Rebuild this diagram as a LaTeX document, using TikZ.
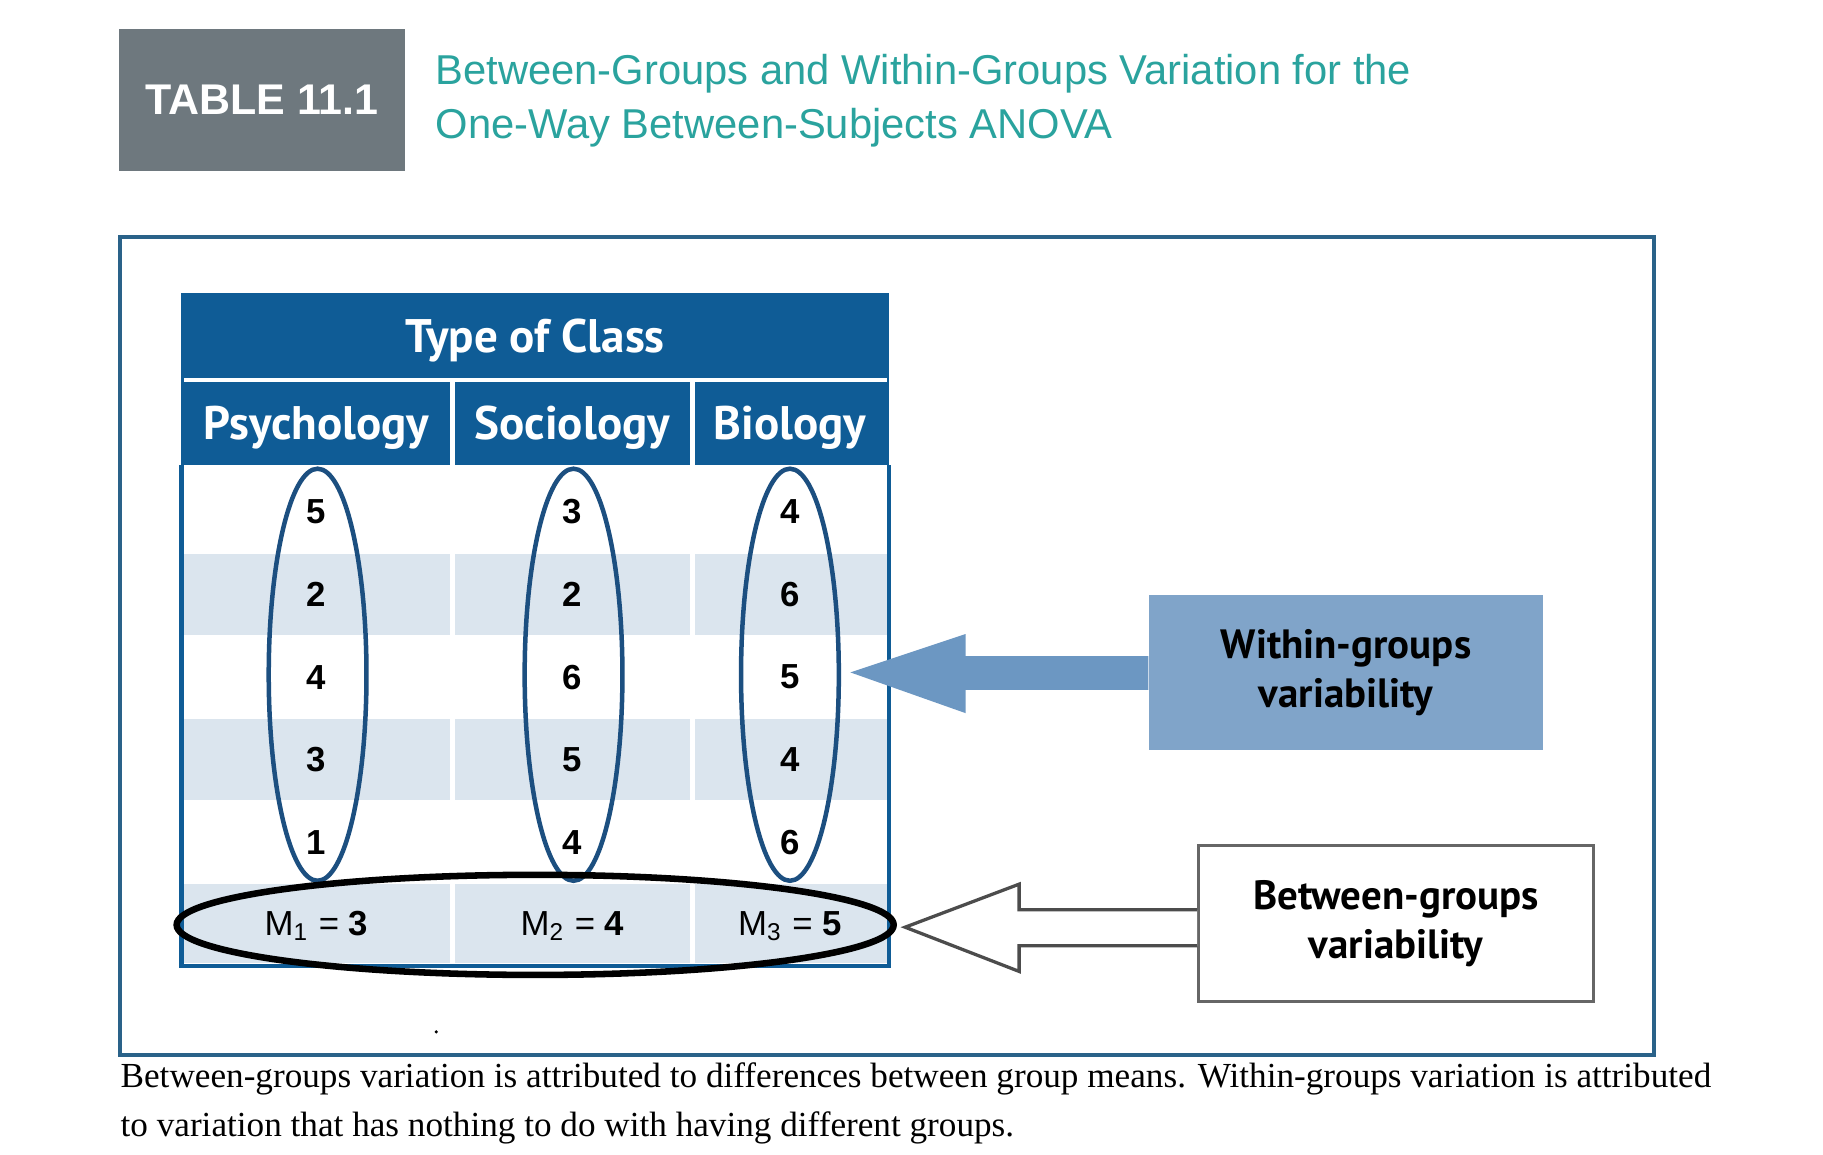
\documentclass[tikz,border=0pt]{standalone}
\usepackage{fontspec}
\setmainfont{Liberation Serif}
\newfontfamily\hd{PT Sans}
\newfontfamily\ar{Liberation Sans}
\definecolor{tgray}{HTML}{6E787E}
\definecolor{teal}{HTML}{2AA39E}
\definecolor{dblue}{HTML}{0F5C96}
\definecolor{lblue}{HTML}{DBE5EE}
\definecolor{eblue}{HTML}{1C4F80}
\definecolor{wbox}{HTML}{80A4C9}
\definecolor{warr}{HTML}{6C97C2}
\definecolor{frame}{HTML}{2A6289}
\tikzset{
 hdtxt/.style={text=white,font=\hd\bfseries\fontsize{11.5pt}{13pt}\selectfont},
 num/.style={font=\ar\bfseries\fontsize{8.5pt}{10pt}\selectfont},
 grp/.style={ellipse,draw=eblue,line width=1.1pt,minimum width=0.84cm,minimum height=3.54cm,inner sep=0pt},
 lbl/.style={font=\hd\bfseries\fontsize{10pt}{12pt}\selectfont,align=center},
}
\usetikzlibrary{shapes.geometric}
\begin{document}
\begin{tikzpicture}[x={(0.01cm,0)},y={(0,-0.01cm)}]
\useasboundingbox (0,0) rectangle (1567,992);
\fill[white] (0,0) rectangle (1567,992);
% header
\node[fill=tgray,minimum width=2.45cm,minimum height=1.22cm,anchor=north west,inner sep=0pt,text=white,font=\ar\bfseries\fontsize{10.5pt}{12pt}\selectfont] (tab) at (102,24) {TABLE 11.1};
\node[anchor=west,align=left,text=teal,font=\ar\fontsize{10.2pt}{13.2pt}\selectfont] (ttl) at (362,87) {Between-Groups and Within-Groups Variation for the\\One-Way Between-Subjects ANOVA};
% frame
\draw[frame,line width=1pt] (103,204) rectangle (1422,907);
% table
\fill[dblue] (156,252) rectangle (764,400);
\draw[white,line width=1pt] (158,327) -- (762,327);
\draw[white,line width=1.3pt] (389,327) -- (389,400) (595,327) -- (595,400);
\foreach \y in {511,653} \fill[lblue] (158,\y-35) rectangle (762,\y+35);
\fill[lblue] (158,760) rectangle (762,828);
\foreach \y in {476,618,760} \draw[white,line width=1.3pt] (389,\y) -- (389,\y+70) (595,\y) -- (595,\y+70);
\draw[dblue,line width=1pt] (156,400) -- (156,830) -- (764,830) -- (764,400);
\node[hdtxt] (toc) at (460,293) {Type of Class};
\node[hdtxt] (c1) at (272,368) {Psychology};
\node[hdtxt] (c2) at (492,368) {Sociology};
\node[hdtxt] (c3) at (679,368) {Biology};
\foreach \a/\b/\c [count=\i] in {5/3/4,2/2/6,4/6/5,3/5/4,1/4/6}{
 \pgfmathsetmacro\yy{440+71*(\i-1)}
 \node[num] (p\i) at (272,\yy) {\a};
 \node[num] (s\i) at (492,\yy) {\b};
 \node[num] (b\i) at (679,\yy) {\c};
}
\node[num] (m1) at (272,796) {\mdseries M\textsubscript{1} = \bfseries 3};
\node[num] (m2) at (492,796) {\mdseries M\textsubscript{2} = \bfseries 4};
\node[num] (m3) at (679,796) {\mdseries M\textsubscript{3} = \bfseries 5};
\node[grp] (e1) at (273,580) {};
\node[grp] (e2) at (493,580) {};
\node[grp] (e3) at (679,580) {};
\node[ellipse,draw=black,line width=1.6pt,minimum width=6.16cm,minimum height=0.86cm,inner sep=0pt] (eb) at (460,795) {};
% within
\node[fill=wbox,minimum width=3.38cm,minimum height=1.33cm,inner sep=0pt,lbl] (wb) at (1157,578) {Within-groups\\variability};
\fill[warr] (wb.west |- 0,564) -- (830,564) -- (830,545) -- (731,578) -- (830,613) -- (830,593) -- (wb.west |- 0,593) -- cycle;
% between
\node[draw=gray!80!black,line width=0.8pt,fill=white,minimum width=3.39cm,minimum height=1.34cm,inner sep=0pt,lbl] (bb) at (1200,794) {Between-groups\\variability};
\draw[black!70,line width=0.8pt,fill=white] (bb.west |- 0,782) -- (876,782) -- (876,760) -- (778,797) -- (876,835) -- (876,813) -- (bb.west |- 0,813);
\fill (375,887) circle (1.5);
% caption
\node[anchor=north west,inner sep=0pt,align=left,font=\fontsize{8.6pt}{12pt}\selectfont] (cap) at (103,913) {Between-groups variation is attributed to differences between group means. Within-groups variation is attributed\\to variation that has nothing to do with having different groups.};
\end{tikzpicture}
\end{document}
